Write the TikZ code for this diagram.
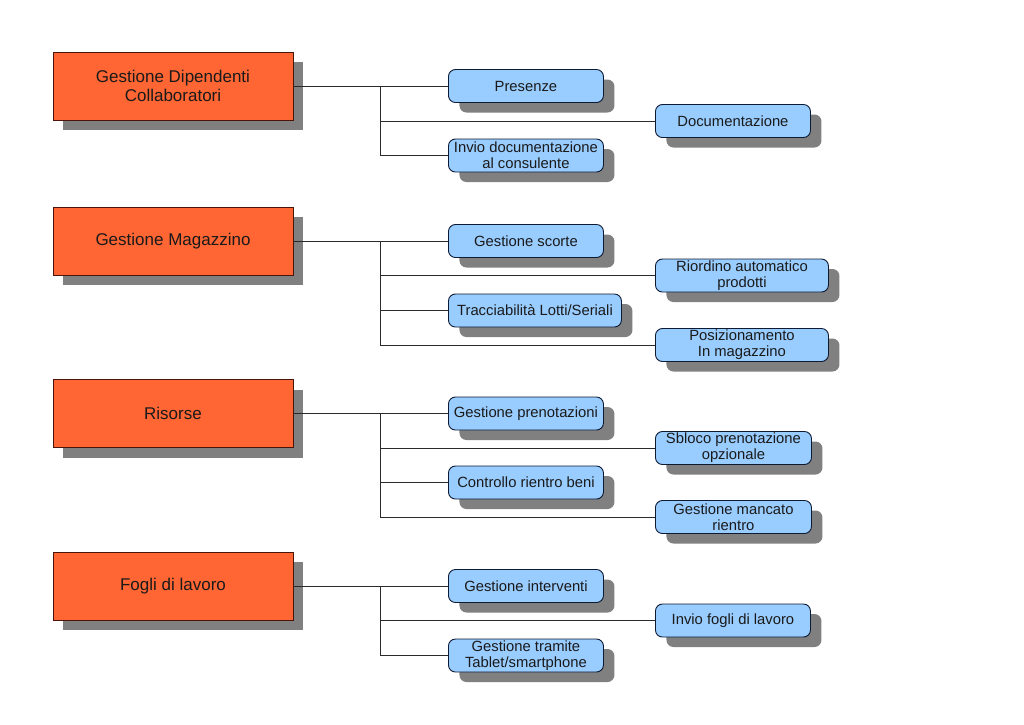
\documentclass[tikz,border=0pt]{standalone}
\usepackage{fontspec}
\setmainfont{Liberation Sans}
\usetikzlibrary{shadows}
\definecolor{orangefill}{HTML}{FF6633}
\definecolor{orangeline}{HTML}{4A1508}
\definecolor{bluefill}{HTML}{99CCFF}
\definecolor{blueline}{HTML}{0D1A33}
\definecolor{shadowgray}{HTML}{808080}
\definecolor{linegray}{HTML}{2A2A2A}
\definecolor{txt}{HTML}{1A1A1A}
\tikzset{
  mainbox/.style={draw=orangeline, line width=0.9pt, fill=orangefill, minimum width=240pt, minimum height=68pt,
    align=center, font=\fontsize{17}{19}\selectfont, text=txt, inner sep=0pt,
    general shadow={fill=shadowgray, draw=none, shadow xshift=10pt, shadow yshift=-10pt}},
  subbox/.style={draw=blueline, line width=0.9pt, fill=bluefill, rounded corners=7pt, minimum width=155pt, minimum height=33pt,
    align=center, font=\fontsize{14.8}{15.8}\selectfont, text=txt, inner sep=0pt, anchor=west,
    general shadow={fill=shadowgray, draw=none, shadow xshift=11pt, shadow yshift=-10pt}},
  wide/.style={minimum width=173pt},
  conn/.style={draw=linegray, line width=0.8pt}
}
\begin{document}
\begin{tikzpicture}[x=1pt,y=-1pt]
\useasboundingbox[fill=white] (0,0) rectangle (1024,724);
% group 1
\node[mainbox] (o1) at (173,86) {Gestione Dipendenti\\Collaboratori};
\node[subbox] (a1) at (448,86) {Presenze};
\node[subbox] (a2) at (655,121) {Documentazione};
\node[subbox] (a3) at (448,155.5) {Invio documentazione\\al consulente};
\coordinate (j1) at (380,86);
\draw[conn] (o1.east) -- (a1.west);
\draw[conn] (j1) |- (a2.west);
\draw[conn] (j1) |- (a3.west);
% group 2
\node[mainbox] (o2) at (173,241) {Gestione Magazzino};
\node[subbox] (b1) at (448,241) {Gestione scorte};
\node[subbox,wide] (b2) at (655,275.5) {Riordino automatico\\prodotti};
\node[subbox,wide] (b3) at (448,310.5) {Tracciabilità Lotti/Seriali};
\node[subbox,wide] (b4) at (655,345) {Posizionamento\\In magazzino};
\coordinate (j2) at (380,241);
\draw[conn] (o2.east) -- (b1.west);
\draw[conn] (j2) |- (b2.west);
\draw[conn] (j2) |- (b3.west);
\draw[conn] (j2) |- (b4.west);
% group 3
\node[mainbox] (o3) at (173,413.5) {Risorse};
\node[subbox] (c1) at (448,413.5) {Gestione prenotazioni};
\node[subbox,minimum width=156pt] (c2) at (655,448) {Sbloco prenotazione\\opzionale};
\node[subbox] (c3) at (448,482.5) {Controllo rientro beni};
\node[subbox,minimum width=156pt] (c4) at (655,517) {Gestione mancato\\rientro};
\coordinate (j3) at (380,413.5);
\draw[conn] (o3.east) -- (c1.west);
\draw[conn] (j3) |- (c2.west);
\draw[conn] (j3) |- (c3.west);
\draw[conn] (j3) |- (c4.west);
% group 4
\node[mainbox] (o4) at (173,586) {Fogli di lavoro};
\node[subbox] (d1) at (448,586) {Gestione interventi};
\node[subbox] (d2) at (655,620.5) {Invio fogli di lavoro};
\node[subbox] (d3) at (448,655.5) {Gestione tramite\\Tablet/smartphone};
\coordinate (j4) at (380,586);
\draw[conn] (o4.east) -- (d1.west);
\draw[conn] (j4) |- (d2.west);
\draw[conn] (j4) |- (d3.west);
\end{tikzpicture}
\end{document}
